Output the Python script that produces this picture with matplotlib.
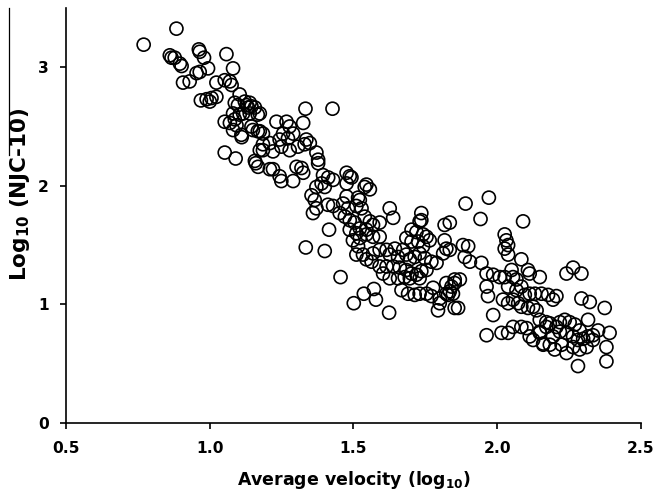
import matplotlib
matplotlib.use('Agg')
import matplotlib.pyplot as plt
from matplotlib.lines import Line2D

plt.rcParams['font.family'] = ['DejaVu Sans']
plt.rcParams['mathtext.fontset'] = 'dejavusans'

# average velocity (log10) vs log10(NJC-10)
velocity = [
    0.884, 0.770, 0.861, 0.867, 0.878, 0.896, 0.902, 0.962, 0.965, 0.980,
    0.994, 1.058, 1.081, 0.907, 0.930, 0.954, 0.965, 1.023, 1.052, 1.070,
    1.076, 0.969, 0.989, 1.000, 1.006, 1.023, 1.104, 1.122, 1.098, 1.133,
    1.052, 1.087, 1.093, 1.104, 1.116, 1.081, 1.110, 1.052, 1.090,
    1.139, 1.157, 1.167, 1.150, 1.167, 1.111, 1.333, 1.427, 1.232, 1.267,
    1.278, 1.325, 1.255, 1.272, 1.290, 1.243, 1.249, 1.278, 1.307, 1.336,
    1.348, 1.330, 1.209, 1.185, 1.220, 1.160, 1.220, 1.243, 1.249, 1.290,
    1.302, 1.319, 1.371, 1.377, 1.377, 1.325, 1.394, 1.412, 1.429, 1.389,
    1.371, 1.400, 1.476, 1.487, 1.493, 1.476, 1.539, 1.354, 1.365, 1.371,
    1.359, 1.411, 1.429, 1.476, 1.464, 1.481, 1.510, 1.522, 1.452, 1.470,
    1.487, 1.504, 1.487, 1.510, 1.522, 1.498, 1.516, 1.539, 1.545, 1.415,
    1.334, 1.400, 1.510, 1.533,
    1.545, 1.557, 1.516, 1.528, 1.626, 1.638, 1.557, 1.568, 1.591, 1.522,
    1.545, 1.568, 1.591, 1.736, 1.736, 1.730, 1.817, 1.702, 1.719, 1.742,
    1.754, 1.765, 1.684, 1.702, 1.725, 1.742, 1.817, 1.823, 1.812, 1.545,
    1.568, 1.591, 1.615, 1.626, 1.644, 1.655, 1.673, 1.684, 1.696, 1.713,
    1.730, 1.748, 1.771, 1.789, 1.563, 1.591, 1.615, 1.638, 1.661, 1.684,
    1.702, 1.719, 1.736, 1.754, 1.603, 1.626, 1.655, 1.678, 1.696, 1.730,
    1.455, 1.667, 1.690, 1.713, 1.730, 1.754, 1.777, 1.771, 1.800, 1.823,
    1.835, 1.852, 1.800, 1.794, 1.852, 1.501, 1.536, 1.571, 1.578, 1.624,
    1.890, 1.971, 1.942, 2.090, 2.026, 2.032, 2.038, 2.026, 2.038, 1.835,
    1.881, 1.899, 1.887, 1.905, 1.835, 1.945, 2.084, 2.107, 2.113, 2.148,
    1.963, 1.986, 2.009, 2.026, 2.050, 2.055, 2.067, 1.852, 1.870, 1.841,
    1.846, 1.963, 1.968, 2.038, 2.067, 2.084, 2.096, 2.113, 2.131, 2.154,
    2.177, 2.194, 2.206, 2.020, 2.038, 2.055, 2.073, 2.084, 2.107, 2.125,
    2.137, 1.864, 1.986, 1.963, 2.015, 2.038, 2.055, 2.084, 2.102, 2.113,
    2.125, 2.148, 2.171, 2.183, 2.194, 2.206, 2.160, 2.183, 1.823, 1.829,
    2.241, 2.264, 2.293, 2.293, 2.322, 2.374, 2.316, 2.148, 2.171, 2.218,
    2.235, 2.252, 2.270, 2.287, 2.148, 2.218, 2.241, 2.264, 2.281, 2.299,
    2.316, 2.333, 2.351, 2.160, 2.200, 2.224, 2.241, 2.264, 2.287, 2.311,
    2.333, 2.391, 2.380, 2.380, 2.281,
    1.087, 1.128, 1.145, 1.081, 1.139, 1.174, 1.070, 1.145, 1.174, 1.185,
    1.185, 1.174, 1.157, 1.168, 1.209,
]
njc10 = [
    3.325, 3.19, 3.10, 3.08, 3.08, 3.03, 3.01, 3.15, 3.13, 3.08,
    2.99, 3.11, 2.99, 2.87, 2.88, 2.95, 2.96, 2.87, 2.89, 2.88,
    2.85, 2.72, 2.73, 2.71, 2.74, 2.75, 2.77, 2.71, 2.68, 2.66,
    2.54, 2.56, 2.51, 2.60, 2.61, 2.47, 2.43, 2.28, 2.23,
    2.70, 2.66, 2.60, 2.47, 2.46, 2.41, 2.65, 2.65, 2.54, 2.54,
    2.50, 2.53, 2.44, 2.40, 2.44, 2.39, 2.33, 2.30, 2.33, 2.39,
    2.36, 2.35, 2.36, 2.30, 2.29, 2.19, 2.14, 2.08, 2.04, 2.04,
    2.16, 2.15, 2.28, 2.22, 2.19, 2.11, 2.09, 2.07, 2.05, 2.02,
    1.99, 1.99, 2.11, 2.08, 2.07, 2.02, 1.99, 1.92, 1.88, 1.81,
    1.77, 1.84, 1.83, 1.91, 1.85, 1.81, 1.83, 1.88, 1.77, 1.74,
    1.71, 1.69, 1.63, 1.60, 1.56, 1.54, 1.49, 1.74, 1.63, 1.63,
    1.48, 1.45, 1.42, 1.42,
    2.01, 1.97, 1.90, 1.81, 1.81, 1.73, 1.70, 1.67, 1.69, 1.64,
    1.59, 1.57, 1.57, 1.77, 1.71, 1.70, 1.67, 1.63, 1.61, 1.59,
    1.57, 1.54, 1.56, 1.53, 1.53, 1.49, 1.54, 1.47, 1.43, 1.38,
    1.43, 1.46, 1.46, 1.42, 1.47, 1.40, 1.46, 1.42, 1.38, 1.40,
    1.43, 1.39, 1.36, 1.35, 1.36, 1.32, 1.32, 1.32, 1.31, 1.29,
    1.26, 1.25, 1.28, 1.29, 1.26, 1.22, 1.22, 1.23, 1.22, 1.22,
    1.23, 1.12, 1.09, 1.08, 1.09, 1.09, 1.14, 1.07, 1.05, 1.09,
    1.11, 1.18, 1.01, 0.95, 0.97, 1.01, 1.09, 1.13, 1.04, 0.93,
    1.85, 1.90, 1.72, 1.70, 1.59, 1.54, 1.50, 1.47, 1.42, 1.69,
    1.50, 1.49, 1.40, 1.36, 1.46, 1.35, 1.38, 1.29, 1.26, 1.23,
    1.26, 1.25, 1.23, 1.23, 1.29, 1.23, 1.21, 1.21, 1.21, 1.15,
    1.09, 1.15, 1.07, 1.15, 1.12, 1.15, 1.08, 1.09, 1.09, 1.09,
    1.08, 1.04, 1.07, 1.04, 1.01, 1.04, 1.01, 0.98, 0.97, 0.98,
    0.95, 0.97, 0.91, 0.74, 0.76, 0.76, 0.81, 0.81, 0.80, 0.73,
    0.70, 0.76, 0.81, 0.84, 0.73, 0.81, 0.67, 0.66, 1.18, 1.08,
    1.26, 1.31, 1.26, 1.05, 1.02, 0.97, 0.87, 0.87, 0.85, 0.85,
    0.87, 0.85, 0.83, 0.78, 0.77, 0.77, 0.76, 0.73, 0.70, 0.71,
    0.73, 0.74, 0.78, 0.66, 0.62, 0.66, 0.59, 0.64, 0.62, 0.64,
    0.70, 0.76, 0.64, 0.52, 0.48,
    2.70, 2.68, 2.67, 2.61, 2.61, 2.61, 2.53, 2.50, 2.46, 2.44,
    2.35, 2.30, 2.21, 2.16, 2.14,
]

x_ticks = [0.5, 1.0, 1.5, 2.0, 2.5]
y_ticks = [0, 1, 2, 3]

fig = plt.figure(figsize=(6.54, 4.93), dpi=100)
ax = fig.add_axes([0.101, 0.142, 0.879, 0.842])

ax.scatter(velocity, njc10, s=88, facecolors='none', edgecolors='black', linewidths=1.2)

ax.set_xlim(0.5, 2.5)
ax.set_ylim(0, 3.5)
ax.set_xticks(x_ticks)
ax.set_xticklabels(['%.1f' % t for t in x_ticks], fontweight='bold', fontsize=11.2)
ax.set_yticks(y_ticks)
ax.set_yticklabels([str(t) for t in y_ticks], fontweight='bold', fontsize=11.2)

for side in ['top', 'right']:
    ax.spines[side].set_visible(False)
for side in ['left', 'bottom']:
    ax.spines[side].set_linewidth(1.2)
ax.tick_params(direction='out', length=4.2, width=1.2)
ax.tick_params(axis='x', pad=9)
ax.tick_params(axis='y', pad=8)

fig.text(0.541, 0.0162, r'Average velocity (log$_{\mathbf{10}}$)', fontsize=12.5,
         fontweight='bold', ha='center', va='baseline')
fig.text(0.0398, 0.6065, r'Log$_{\mathbf{10}}$ (NJC-10)', fontsize=15.5,
         fontweight='bold', rotation=90, rotation_mode='anchor', ha='center', va='baseline')

# stray line left of the y label in the original
fig.add_artist(Line2D([0.0138, 0.0138], [0.686, 0.984], color='black', lw=0.9, transform=fig.transFigure))

fig.savefig('out.png', dpi=100)
